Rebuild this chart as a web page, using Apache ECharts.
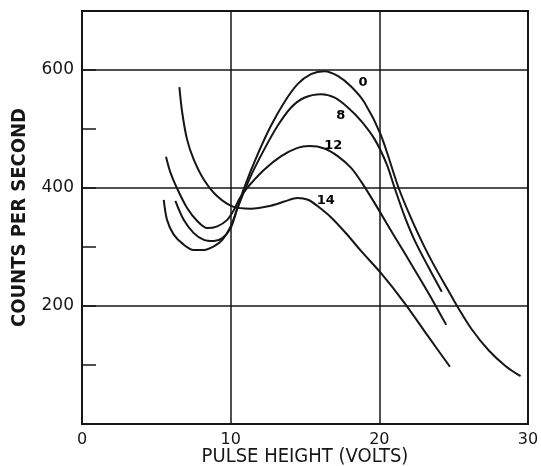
<!DOCTYPE html>
<html>
<head>
<meta charset="utf-8">
<script src="https://cdn.jsdelivr.net/npm/echarts@6/dist/echarts.min.js"></script>
<style>
  html, body { margin: 0; padding: 0; background: #fff; }
  #chart { width: 541px; height: 466px; }
</style>
</head>
<body>
<div id="chart"></div>
<script>
// pulse height (volts) vs counts per second, one curve per absorber setting
const curveNames = ['0', '8', '12', '14']

const curve0 = [
  [5.5, 380], [5.72, 346], [6.17, 321], [6.84, 304], [7.5, 295], [8.2, 295],
  [8.87, 301], [9.44, 312], [10, 335], [10.4, 362], [10.9, 400], [11.8, 456],
  [12.7, 505], [13.6, 545], [14.5, 576], [15.4, 593], [16.3, 598], [17.2, 590],
  [18.1, 572], [19.0, 545], [20.1, 490], [21.3, 400], [22.2, 345], [23.0, 302],
  [23.7, 268], [24.6, 228], [25.3, 197], [26.2, 161], [27.35, 125], [28.5, 98],
  [29.5, 81]
]
const curve8 = [
  [6.28, 378], [6.84, 346], [7.5, 324], [8.2, 312], [8.87, 310], [9.44, 315],
  [10, 332], [10.45, 365], [11.35, 420], [12.25, 465], [13.15, 505], [14.05, 536],
  [14.95, 553], [16.1, 559], [17.0, 553], [17.9, 536], [18.8, 513], [19.7, 482],
  [20.5, 440], [21.03, 400], [21.7, 352], [22.4, 310], [23.3, 266], [24.2, 224]
]
const curve12 = [
  [5.65, 453], [5.95, 426], [6.4, 399], [7.07, 366], [7.75, 344], [8.42, 332],
  [9.1, 335], [9.77, 346], [10.2, 362], [10.6, 382], [11.1, 400], [12.25, 431],
  [13.4, 454], [14.5, 468], [15.3, 471], [16.3, 467], [17.2, 454], [18.1, 434],
  [18.8, 410], [19.5, 382], [20.1, 357], [20.9, 323], [21.7, 290], [22.5, 256],
  [23.3, 222], [24.5, 168]
]
const curve14 = [
  [6.55, 571], [6.74, 528], [7.07, 482], [7.52, 448], [8.2, 414], [9.1, 386],
  [10.2, 368], [11.35, 365], [12.7, 370], [13.6, 377], [14.5, 383], [15.2, 380],
  [15.86, 369], [16.76, 350], [17.8, 322], [18.78, 293], [20.1, 256], [21.7, 205],
  [23.3, 148], [24.75, 97]
]
const curves = [curve0, curve8, curve12, curve14]

// where each curve's number is written
const labelX = [18.9, 17.4, 16.9, 16.4]
const labelY = [579, 522, 471, 378]

const xTicks = [0, 10, 20, 30]
const yLabelTicks = [200, 400, 600]

const ink = '#161616'
const narrow = '"Liberation Sans Narrow", "DejaVu Sans Condensed", sans-serif'

const chart = echarts.init(document.getElementById('chart'))

const lineSeries = curves.map((data, i) => ({
  name: curveNames[i],
  type: 'line',
  data: data,
  smooth: 0.3,
  showSymbol: false,
  lineStyle: { color: ink, width: 2 },
  z: 5
}))

const labelSeries = {
  type: 'scatter',
  symbolSize: 0,
  itemStyle: { opacity: 1 },
  data: curveNames.map((n, i) => ({ name: n, value: [labelX[i], labelY[i]] })),
  label: {
    show: true,
    position: 'inside',
    formatter: p => p.name,
    color: '#000',
    fontSize: 13,
    fontWeight: 'bold',
    fontFamily: 'DejaVu Sans'
  },
  z: 6
}

chart.setOption({
  animation: false,
  backgroundColor: '#fff',
  grid: {
    left: 82, right: 13, top: 11, bottom: 42,
    containLabel: false,
    outerBoundsMode: 'none',
    show: true, borderColor: ink, borderWidth: 2
  },
  xAxis: {
    type: 'value',
    min: 0, max: 30, interval: 10,
    name: 'PULSE HEIGHT (VOLTS)',
    nameLocation: 'middle',
    nameGap: 23,
    nameMoveOverlap: false,
    nameTextStyle: { color: ink, fontSize: 20, fontFamily: narrow },
    axisLine: { show: true, lineStyle: { color: ink, width: 2 } },
    axisTick: { show: false },
    axisLabel: {
      color: ink, fontSize: 16, margin: 8, fontFamily: 'DejaVu Sans',
      formatter: v => xTicks.includes(v) ? String(v) : ''
    },
    splitLine: { show: true, lineStyle: { color: ink, width: 1.5 } }
  },
  yAxis: [
    {
      type: 'value',
      min: 0, max: 700, interval: 200,
      name: 'COUNTS PER SECOND',
      nameLocation: 'middle',
      nameGap: 52,
      nameMoveOverlap: false,
      nameTextStyle: { color: ink, fontSize: 20, fontWeight: 'bold', fontFamily: narrow },
      axisLine: { show: true, lineStyle: { color: ink, width: 2 } },
      axisTick: { show: false },
      axisLabel: {
        color: ink, fontSize: 17, margin: 8, fontFamily: 'DejaVu Sans',
        formatter: v => yLabelTicks.includes(v) ? String(v) : ''
      },
      splitLine: { show: true, lineStyle: { color: ink, width: 1.5 } }
    },
    {
      type: 'value',
      min: 0, max: 700, interval: 100,
      position: 'left',
      axisLine: { show: false },
      axisTick: { show: true, inside: true, length: 14, lineStyle: { color: ink, width: 1.5 } },
      axisLabel: { show: false },
      splitLine: { show: false }
    }
  ],
  series: [...lineSeries, labelSeries]
})

window.addEventListener('resize', () => chart.resize())
</script>
</body>
</html>
